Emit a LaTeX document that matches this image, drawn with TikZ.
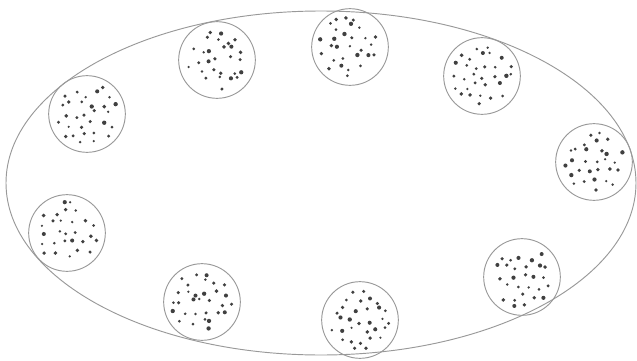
\documentclass[tikz,border=0pt]{standalone}
\usepackage{tikz}
\usetikzlibrary{calc}

\tikzset{
  cell/.style={circle, draw=gray!80, line width=0.8pt, minimum size=2.3cm, inner sep=0pt},
  grain/.style={fill=black!75},
}

\begin{document}
\begin{tikzpicture}[x=0.03cm, y=-0.03cm]
\useasboundingbox (0,0) rectangle (637,360);
% --- membrana esterna ---
\draw[gray!80, line width=0.8pt] (321,183) ellipse [x radius=315, y radius=172];
% --- vescicole ---
\node[cell] (c1) at (87,114) {};
\node[cell] (c2) at (217,60) {};
\node[cell] (c3) at (350,47) {};
\node[cell] (c4) at (482,76) {};
\node[cell] (c5) at (594,162) {};
\node[cell] (c6) at (67,233) {};
\node[cell] (c7) at (202,302) {};
\node[cell] (c8) at (360,320) {};
\node[cell] (c9) at (522,277) {};
% --- granuli interni (griglia con disturbo) ---
\pgfmathsetseed{4217}
\foreach \n in {c1,c2,c3,c4,c5,c6,c7,c8,c9}{
  \foreach \gy in {-3,...,3}{
    \foreach \gx in {-3,...,3}{
      \pgfmathsetmacro\px{10.5*\gx+5.25*mod(abs(\gy),2)+3.6*rand}
      \pgfmathsetmacro\py{10*\gy+3.6*rand}
      \pgfmathtruncatemacro\inside{(\px*\px+\py*\py)<(31*31)}
      \ifnum\inside=1
        \pgfmathsetmacro\sz{1.2+1.0*rnd}
        \fill[grain] ($(\n)+(\px,\py)$) circle (\sz);
      \fi
    }
  }
}
\end{tikzpicture}
\end{document}
